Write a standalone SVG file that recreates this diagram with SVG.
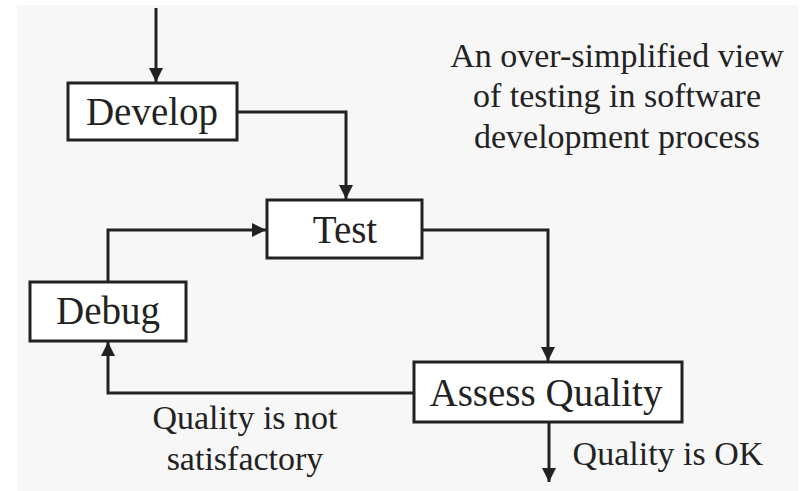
<svg xmlns="http://www.w3.org/2000/svg" width="807" height="491" viewBox="0 0 807 491">
  <style>
    .box { fill: #ffffff; stroke: #222222; stroke-width: 3; }
    .lbl { font-family: "Liberation Serif", "Times New Roman", serif; fill: #222222; text-anchor: middle; }
    .node { font-size: 39px; }
    .note { font-size: 34px; }
    .edge { fill: none; stroke: #222222; stroke-width: 3; marker-end: url(#head); }
  </style>
  <defs>
    <marker id="head" viewBox="0 0 14 14" refX="14" refY="7" markerWidth="14" markerHeight="14" markerUnits="userSpaceOnUse" orient="auto">
      <path d="M0,0 L14,7 L0,14 Z" fill="#222222"/>
    </marker>
  </defs>

  <!-- backdrop panel -->
  <rect x="17" y="5" width="781" height="486" fill="#f7f7f7"/>

  <!-- connectors -->
  <g id="connectors">
    <path class="edge" d="M156,8 L156,82"/>
    <path class="edge" d="M237,112 L346,112 L346,199"/>
    <path class="edge" d="M422,230 L548,230 L548,361"/>
    <path class="edge" d="M549,423 L549,482"/>
    <path class="edge" d="M414,393 L108,393 L108,342"/>
    <path class="edge" d="M108,282 L108,230 L266,230"/>
  </g>

  <g id="develop">
    <rect class="box" x="68" y="83" width="169" height="57"/>
    <text class="lbl node" x="152" y="125">Develop</text>
  </g>

  <g id="test">
    <rect class="box" x="267" y="200" width="155" height="58"/>
    <text class="lbl node" x="345" y="243">Test</text>
  </g>

  <g id="assess-quality">
    <rect class="box" x="414" y="362" width="268" height="60"/>
    <text class="lbl node" x="546" y="406">Assess Quality</text>
  </g>

  <g id="debug">
    <rect class="box" x="30" y="282" width="156" height="59"/>
    <text class="lbl node" x="108" y="324">Debug</text>
  </g>

  <!-- edge labels -->
  <text class="lbl note" x="245" y="429">Quality is not</text>
  <text class="lbl note" x="245" y="470">satisfactory</text>
  <text class="lbl note" x="668" y="465">Quality is OK</text>

  <!-- caption -->
  <text class="lbl note" x="617" y="67">An over-simplified view</text>
  <text class="lbl note" x="617" y="107">of testing in software</text>
  <text class="lbl note" x="617" y="148">development process</text>
</svg>
